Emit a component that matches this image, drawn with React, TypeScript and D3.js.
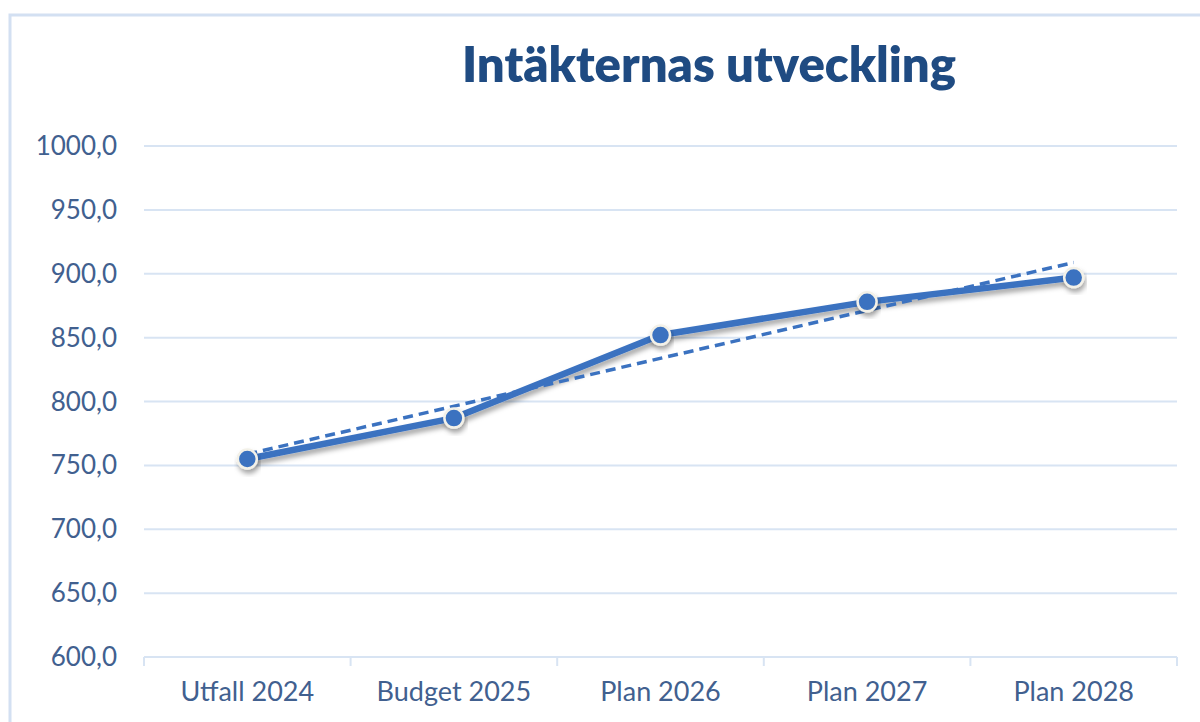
import React from "react";
import * as d3 from "d3";

const categories = ["Utfall 2024", "Budget 2025", "Plan 2026", "Plan 2027", "Plan 2028"];
const values = [755, 787, 852, 878, 897];
const yTicks = [600, 650, 700, 750, 800, 850, 900, 950, 1000];
const title = "Intäkternas utveckling";

const W = 1200;
const H = 722;
const plot = { left: 144, right: 1177, top: 146, bottom: 657 };

const labelColor = "#41608f";
const gridColor = "#d8e4f3";
const lineColor = "#3b72c0";

export default function App() {
  const x = d3.scaleBand<string>().domain(categories).range([plot.left, plot.right]).padding(0);
  const y = d3.scaleLinear().domain([600, 1000]).range([plot.bottom, plot.top]);
  const cx = (c: string) => (x(c) as number) + x.bandwidth() / 2;

  const pts: [number, number][] = categories.map((c, i) => [cx(c), y(values[i])]);
  const line = d3.line<[number, number]>().x((d) => d[0]).y((d) => d[1]);

  // linear trendline (least squares on category index)
  const n = values.length;
  const idx = values.map((_, i) => i + 1);
  const mx = d3.mean(idx) as number;
  const my = d3.mean(values) as number;
  const slope =
    d3.sum(idx.map((xi, i) => (xi - mx) * (values[i] - my))) /
    d3.sum(idx.map((xi) => (xi - mx) * (xi - mx)));
  const icpt = my - slope * mx;
  const trend: [number, number][] = [
    [cx(categories[0]), y(icpt + slope * 1)],
    [cx(categories[n - 1]), y(icpt + slope * n)],
  ];

  const boundaries = [...categories.map((c) => x(c) as number), plot.right];
  const fmt = (v: number) => v.toFixed(1).replace(".", ",");

  return (
    <svg
      width={W}
      height={H}
      style={{ position: "absolute", left: 0, top: 0, background: "#fff" }}
      fontFamily="Lato, 'Open Sans', sans-serif"
    >
      <defs>
        <filter id="sh" x="-20%" y="-20%" width="140%" height="160%">
          <feDropShadow dx="1.5" dy="4" stdDeviation="2.5" floodColor="#000" floodOpacity="0.35" />
        </filter>
      </defs>
      <rect x={10} y={15} width={1200} height={720} fill="#fff" stroke="#d3e0f2" strokeWidth={3} />

      <text
        x={709}
        y={82}
        textAnchor="middle"
        fontSize={49}
        fontWeight={800}
        fill="#1f4b82"
      >
        {title}
      </text>

      {yTicks.map((t) => (
        <g key={t}>
          <line x1={plot.left} x2={plot.right} y1={y(t)} y2={y(t)} stroke={gridColor} strokeWidth={2} />
          <text x={117} y={y(t)} dy="0.35em" textAnchor="end" fontSize={26} fill={labelColor}>
            {fmt(t)}
          </text>
        </g>
      ))}

      {boundaries.map((b, i) => (
        <line key={i} x1={b} x2={b} y1={plot.bottom} y2={plot.bottom + 9} stroke={gridColor} strokeWidth={2} />
      ))}

      {categories.map((c) => (
        <text key={c} x={cx(c)} y={701} textAnchor="middle" fontSize={27} fill={labelColor}>
          {c}
        </text>
      ))}

      <path d={line(pts) as string} fill="none" stroke={lineColor} strokeWidth={6.5} strokeLinejoin="round" filter="url(#sh)" />
      <path d={line(trend) as string} fill="none" stroke={lineColor} strokeWidth={3.5} strokeDasharray="10 6" />
      {pts.map((p, i) => (
        <circle key={i} cx={p[0]} cy={p[1]} r={9.5} fill={lineColor} stroke="#f3f1e8" strokeWidth={2.5} filter="url(#sh)" />
      ))}
    </svg>
  );
}
